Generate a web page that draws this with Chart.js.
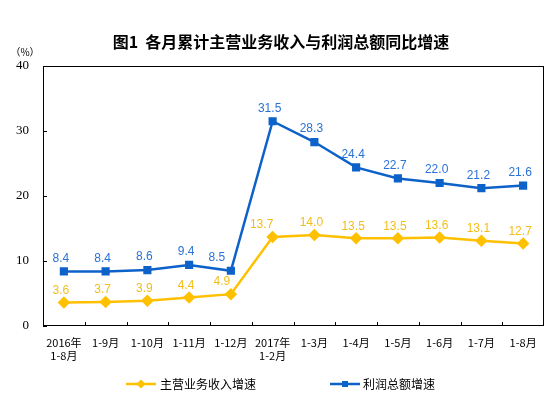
<!DOCTYPE html>
<html><head><meta charset="utf-8">
<script src="https://cdn.jsdelivr.net/npm/chart.js@4/dist/chart.umd.min.js"></script>
<style>html,body{margin:0;padding:0;background:#fff}#wrap{width:551px;height:397px;position:relative}</style>
</head><body><div id="wrap"><canvas id="c" width="551" height="397"></canvas></div>
<script>
const categories = [["2016年","1-8月"],"1-9月","1-10月","1-11月","1-12月",["2017年","1-2月"],"1-3月","1-4月","1-5月","1-6月","1-7月","1-8月"];
const incomeGrowth = [3.6,3.7,3.9,4.4,4.9,13.7,14.0,13.5,13.5,13.6,13.1,12.7];
const profitGrowth = [8.4,8.4,8.6,9.4,8.5,31.5,28.3,24.4,22.7,22.0,21.2,21.6];
const seriesNames = ["主营业务收入增速","利润总额增速"];
const titleText = "图1  各月累计主营业务收入与利润总额同比增速";
const unitText = "（%）";

const YELLOW = "#FFC000", YELLOW_LBL = "#F2BE1A";
const BLUE = "#0D62C9", BLUE_LBL = "#2A72D4";
const CJK = "'Noto Sans CJK SC', 'Noto Sans', sans-serif";
// horizontal nudges of data labels (style only)
const incomeLabelShift = {4: -6, 5: -8};
const profitLabelShift = {4: -11};

const decor = {
  id: 'decor',
  beforeDatasetsDraw(chart) {
    const {ctx, chartArea: a, scales} = chart;
    ctx.save();
    ctx.strokeStyle = '#000'; ctx.lineWidth = 1;
    ctx.strokeRect(Math.round(a.left)+0.5, Math.round(a.top)+0.5, Math.round(a.right-a.left)-1, Math.round(a.bottom-a.top)-1);
    const xs = scales.x;
    ctx.beginPath();
    for (let i = 1; i < categories.length; i++) {
      const x = Math.round((xs.getPixelForValue(i-1) + xs.getPixelForValue(i))/2) + 0.5;
      ctx.moveTo(x, a.bottom); ctx.lineTo(x, a.bottom - 4);
    }
    const ys = scales.y;
    for (const t of ys.ticks) {
      const y = Math.round(ys.getPixelForValue(t.value)) + 0.5;
      ctx.moveTo(a.left, y); ctx.lineTo(a.left + 4, y);
    }
    ctx.stroke();
    ctx.restore();
  },
  afterDraw(chart) {
    const {ctx} = chart;
    ctx.save();
    ctx.fillStyle = '#000';
    ctx.textAlign = 'center'; ctx.textBaseline = 'middle';
    ctx.font = "bold 16px " + CJK;
    ctx.fillText(titleText, 281, 42);
    ctx.font = "10px " + CJK;
    ctx.fillText(unitText, 25, 52);
    ctx.font = "12px 'Liberation Sans', Arial, sans-serif";
    chart.data.datasets.forEach((ds, di) => {
      const meta = chart.getDatasetMeta(di);
      ctx.fillStyle = di === 0 ? YELLOW_LBL : BLUE_LBL;
      const shifts = di === 0 ? incomeLabelShift : profitLabelShift;
      const dy = di === 0 ? 12 : 13;
      meta.data.forEach((p, i) => {
        ctx.fillText(ds.data[i].toFixed(1), p.x - 3 + (shifts[i] || 0), p.y - dy);
      });
    });
    const items = [
      {x1: 126, x2: 156, color: YELLOW, shape: 'diamond', tx: 160, label: seriesNames[0]},
      {x1: 330, x2: 360, color: BLUE, shape: 'square', tx: 363, label: seriesNames[1]}
    ];
    const ly = 384;
    ctx.font = "12px " + CJK;
    ctx.textAlign = 'left';
    items.forEach(it => {
      ctx.strokeStyle = it.color; ctx.lineWidth = 2.5;
      ctx.beginPath(); ctx.moveTo(it.x1, ly); ctx.lineTo(it.x2, ly); ctx.stroke();
      ctx.fillStyle = it.color;
      const cx = (it.x1 + it.x2)/2;
      if (it.shape === 'diamond') {
        ctx.beginPath(); ctx.moveTo(cx, ly-4.5); ctx.lineTo(cx+4.5, ly); ctx.lineTo(cx, ly+4.5); ctx.lineTo(cx-4.5, ly); ctx.closePath(); ctx.fill();
      } else {
        ctx.fillRect(cx-3, ly-3, 6, 6);
      }
      ctx.fillStyle = '#000';
      ctx.fillText(it.label, it.tx, ly);
    });
    ctx.restore();
  }
};

new Chart(document.getElementById('c'), {
  type: 'line',
  data: {
    labels: categories,
    datasets: [
      {label: seriesNames[0], data: incomeGrowth, borderColor: YELLOW, backgroundColor: YELLOW,
       borderWidth: 2.5, pointStyle: 'rectRot', pointRadius: 4.5, pointHoverRadius: 4.5, tension: 0},
      {label: seriesNames[1], data: profitGrowth, borderColor: BLUE, backgroundColor: BLUE,
       borderWidth: 2.5, pointStyle: 'rect', pointRadius: 4, pointHoverRadius: 4, tension: 0}
    ]
  },
  options: {
    responsive: false, animation: false,
    layout: {padding: {top: 66, right: 7, left: 0, bottom: 0}},
    plugins: {legend: {display: false}, title: {display: false}, tooltip: {enabled: false}},
    scales: {
      x: {
        offset: true,
        grid: {display: false, drawTicks: false},
        border: {display: false},
        ticks: {maxRotation: 0, minRotation: 0, autoSkip: false, padding: 10, color: '#000',
                font: {family: CJK, size: 11}},
        afterFit(s) { s.height = 71; }
      },
      y: {
        min: 0, max: 40,
        grid: {display: false, drawTicks: false},
        border: {display: false},
        ticks: {stepSize: 10, padding: 14, color: '#000',
                font: {family: "'Liberation Serif', serif", size: 13}},
        afterFit(s) { s.width = 43; }
      }
    }
  },
  plugins: [decor]
});
</script></body></html>
